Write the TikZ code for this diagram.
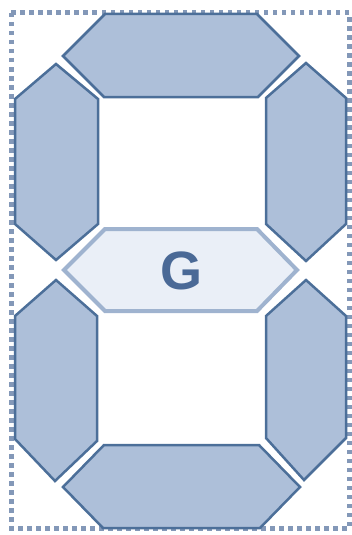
\documentclass[tikz,border=0pt]{standalone}
\usepackage{fontspec}
\setmainfont{Liberation Sans}
\definecolor{segfill}{HTML}{ADBFD9}
\definecolor{segline}{HTML}{4C6F99}
\definecolor{midfill}{HTML}{EAEFF7}
\definecolor{midline}{HTML}{9FB3CF}
\definecolor{gtext}{HTML}{4A6996}
\definecolor{dotline}{HTML}{8398B8}
\begin{document}
\begin{tikzpicture}[x=1pt,y=-1pt,
  seg/.style={fill=segfill,draw=segline,line width=2.5pt,line join=miter},
  midseg/.style={fill=midfill,draw=midline,line width=4pt,line join=miter},
  frame/.style={draw=dotline,line width=5pt,dash pattern=on 4.5pt off 4.5pt}]
\useasboundingbox (0,0) rectangle (352,535);
% dotted frame
\draw[frame] (11,13) rectangle (349,528);
% top segment
\draw[seg] (63,56) -- (105,14) -- (257,14) -- (299,56) -- (258,97) -- (104,97) -- cycle;
% upper left
\draw[seg] (56,64) -- (15,99) -- (15,224) -- (56,260) -- (98,224) -- (98,99) -- cycle;
% upper right
\draw[seg] (306,63) -- (266,98) -- (266,224) -- (306,261) -- (346,224) -- (346,98) -- cycle;
% middle segment G
\draw[midseg] (64,270) -- (105,229) -- (257,229) -- (297,270) -- (257,311) -- (105,311) -- cycle;
\node[text=gtext,font=\bfseries\fontsize{54}{60}\selectfont,inner sep=0pt] (g) at (181,271) {G};
% lower left
\draw[seg] (56,280) -- (15,316) -- (15,439) -- (55,481) -- (97,441) -- (97,316) -- cycle;
% lower right
\draw[seg] (306,280) -- (266,316) -- (266,438) -- (304,480) -- (346,438) -- (346,316) -- cycle;
% bottom segment
\draw[seg] (63,487) -- (104,445) -- (259,445) -- (300,487) -- (260,528) -- (103,528) -- cycle;
\end{tikzpicture}
\end{document}
